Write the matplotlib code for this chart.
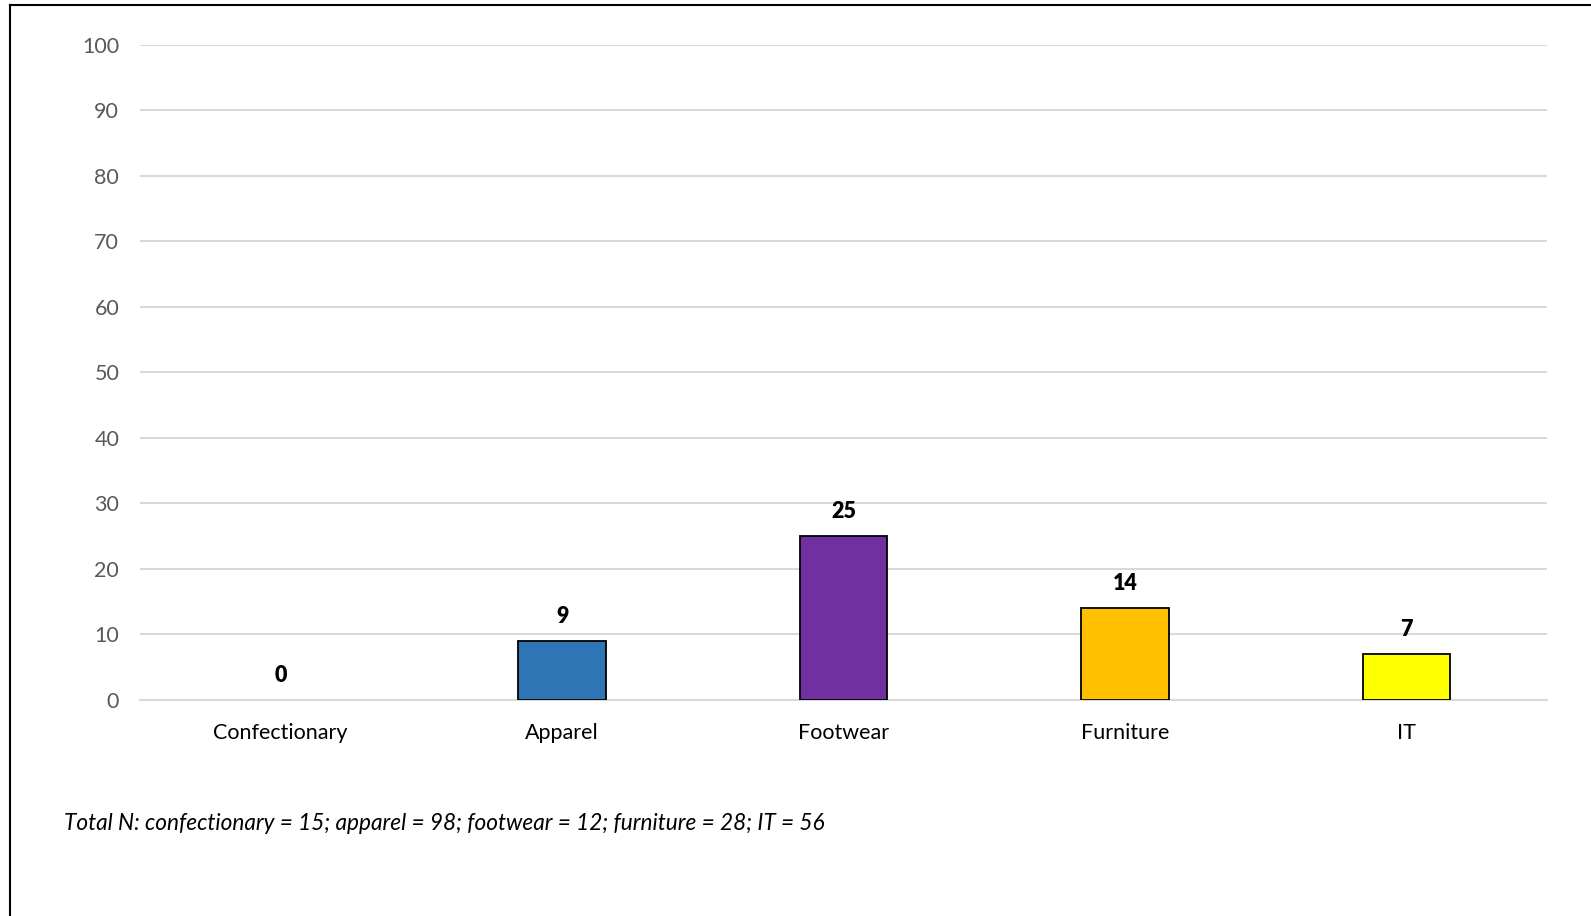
import matplotlib
matplotlib.use('Agg')
import matplotlib.pyplot as plt
from matplotlib.lines import Line2D

# 数据
categories = ['Confectionary', 'Apparel', 'Footwear', 'Furniture', 'IT']
values = [0, 9, 25, 14, 7]
bar_colors = ['#FFFFFF', '#2E75B6', '#7030A0', '#FFC000', '#FFFF00']
note = 'Total N: confectionary = 15; apparel = 98; footwear = 12; furniture = 28; IT = 56'

plt.rcParams['font.family'] = ['Lato', 'DejaVu Sans']

W, H = 1591, 916
fig = plt.figure(figsize=(W / 100, H / 100), dpi=100)
ax = fig.add_axes([140 / W, 1 - 700 / H, (1547 - 140) / W, (700 - 44.6) / H])

x = list(range(len(categories)))
for i, v in enumerate(values):
    if v > 0:
        ax.bar(i, v, width=0.31, color=bar_colors[i], edgecolor='black',
               linewidth=1.3, zorder=3)
    ax.annotate(str(v), (i, v), xytext=(0, 10), textcoords='offset points',
                ha='center', va='bottom', fontsize=15.5, fontweight='heavy',
                color='black')

ax.set_xlim(-0.5, len(categories) - 0.5)
ax.set_ylim(0, 100)
ax.set_yticks(range(0, 101, 10))
ax.set_xticks(x)
ax.set_xticklabels(categories)
ax.grid(axis='y', color='#D9D9D9', linewidth=1.5, zorder=0)
ax.set_axisbelow(True)
for s in ['top', 'right', 'left']:
    ax.spines[s].set_visible(False)
ax.spines['bottom'].set_color('#D9D9D9')
ax.spines['bottom'].set_linewidth(1.5)
ax.tick_params(axis='y', length=0, pad=15, labelsize=15.5, labelcolor='#595959')
ax.tick_params(axis='x', length=0, pad=16.5, labelsize=15.5, labelcolor='black')

fig.text(64 / W, 1 - 824 / H, note, fontsize=16.3, style='italic',
         ha='left', va='center', color='black')

# 外框（左边和上边）
fig.add_artist(Line2D([10 / W, 10 / W], [0, 1 - 5 / H], transform=fig.transFigure,
                      color='black', linewidth=1.5))
fig.add_artist(Line2D([10 / W, 1], [1 - 5 / H, 1 - 5 / H], transform=fig.transFigure,
                      color='black', linewidth=1.5))

fig.savefig('out.png', dpi=100)
